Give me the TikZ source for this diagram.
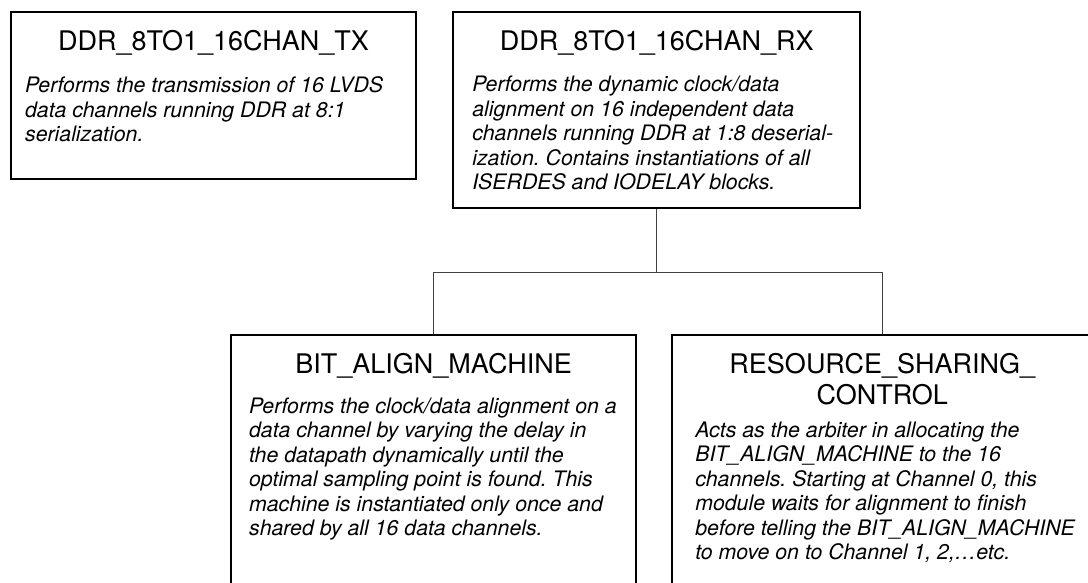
\documentclass[tikz,border=0pt]{standalone}
\usepackage{fontspec}
\setmainfont{TeX Gyre Heros}
\usetikzlibrary{positioning}
\frenchspacing

\newcommand{\boxheadfont}{\fontsize{27}{31}\selectfont}
\newcommand{\boxbodyfont}{\fontsize{21.3}{24.5}\selectfont\itshape}
% width, height, title, gap under title, lines of text
\newcommand{\boxtext}[5]{\parbox[t][#2][t]{#1}{\centering
  {\boxheadfont\rule{0pt}{38pt}#3\par}\vspace{#4}%
  \raggedright\noindent\boxbodyfont\begin{tabular}[t]{@{}l@{}}#5\end{tabular}\par}}

\begin{document}
\begin{tikzpicture}[x=1pt, y=-1pt]
    % Styles
    \tikzstyle{block} = [draw=black, line width=2.2pt, anchor=north west, inner ysep=0pt]
    \tikzstyle{link} = [line width=1pt, draw=black!75]

    \useasboundingbox (0,0) rectangle (1088,583);
    \clip (0,0) rectangle (1088,583);

    % Blocks
    \node (tx) [block, inner xsep=14pt] at (10,11)
        {\boxtext{377pt}{167pt}{DDR\_8TO1\_16CHAN\_TX}{18pt}{Performs the transmission of 16 LVDS\\
        data channels running DDR at 8:1\\ serialization.}};
    \node (rx) [block, inner xsep=19pt, right=35pt of tx.north east, anchor=north west]
        {\boxtext{369pt}{196pt}{DDR\_8TO1\_16CHAN\_RX}{17pt}{Performs the dynamic clock/data\\
        alignment on 16 independent data\\ channels running DDR at 1:8 deserial-\\
        ization. Contains instantiations of all\\ ISERDES and IODELAY blocks.}};
    \node (bam) [block, inner xsep=18pt] at (230,334)
        {\boxtext{369pt}{300pt}{BIT\_ALIGN\_MACHINE}{15.5pt}{Performs the clock/data alignment on a\\
        data channel by varying the delay in\\ the datapath dynamically until the\\
        optimal sampling point is found. This\\ machine is instantiated only once and\\
        shared by all 16 data channels.}};
    \node (rsc) [block, inner xsep=23pt, right=34pt of bam.north east, anchor=north west]
        {\boxtext{374pt}{300pt}{RESOURCE\_SHARING\_\\ CONTROL}{8.5pt}{Acts as the arbiter in allocating the\\
        BIT\_ALIGN\_MACHINE to the 16\\ channels. Starting at Channel 0, this\\
        module waits for alignment to finish\\ before telling the BIT\_ALIGN\_MACHINE\\
        to move on to Channel 1, 2,…etc.}};

    % Connectors
    \coordinate [below=63pt of rx.south] (fork);
    \draw [link] (rx.south) -- (fork);
    \draw [link] (bam.north) |- (fork) -| (rsc.north);
\end{tikzpicture}
\end{document}
